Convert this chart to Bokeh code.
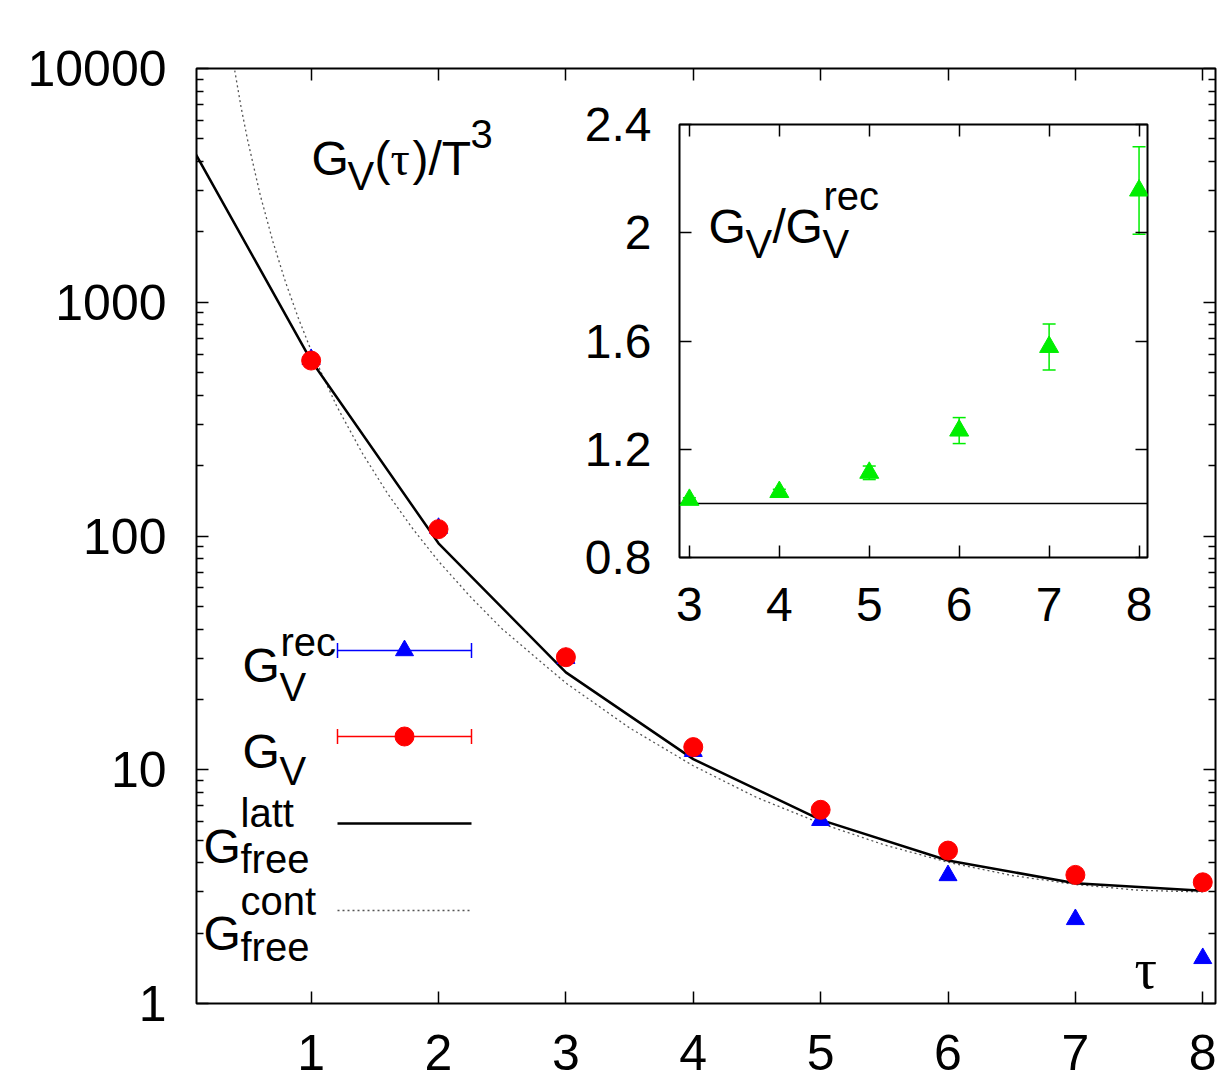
from bokeh.plotting import figure
from bokeh.models import (FixedTicker, LinearAxis, LogAxis, Label, Whisker, TeeHead,
                          ColumnDataSource, Span, NumeralTickFormatter,
                          CustomJSTickFormatter, GridBox, Column)
from bokeh.embed import file_html
from bokeh.resources import INLINE

# ---------------- data ----------------
tau = [1, 2, 3, 4, 5, 6, 7, 8]
g_v = [563, 107, 30.3, 12.5, 6.74, 4.51, 3.55, 3.30]          # G_V  (red circles)
g_rec = [570, 108, 30.0, 12.0, 6.08, 3.53, 2.29, 1.56]        # G_V^rec (blue triangles)
latt_tau = [0, 1, 2, 3, 4, 5, 6, 7, 8]
latt_val = [5310, 563, 93.1, 26.1, 11.1, 6.10, 4.09, 3.27, 3.04]   # G_free^latt
cont_tau = [0.38, 0.45, 0.5, 0.6, 0.7, 0.8, 0.9, 1.0, 1.2, 1.4, 1.6, 1.8, 2.0,
            2.25, 2.5, 3.0, 3.5, 4.0, 4.5, 5.0, 5.5, 6.0, 6.5, 7.0, 7.5, 8.0]
cont_val = [11340, 6830, 4980, 2880, 1815, 1215, 854, 622, 360, 227, 152, 107, 78,
            55, 40, 23.5, 15.1, 10.4, 7.6, 5.9, 4.77, 4.02, 3.53, 3.23, 3.05, 3.0]  # G_free^cont
ratio_tau = [3, 4, 5, 6, 7, 8]
ratio = [1.013, 1.042, 1.113, 1.269, 1.578, 2.156]
ratio_err = [0.008, 0.010, 0.025, 0.048, 0.085, 0.162]

x_ticks = [1, 2, 3, 4, 5, 6, 7, 8]
y_ticks = [1, 10, 100, 1000, 10000]
inset_x_ticks = [3, 4, 5, 6, 7, 8]
inset_y_ticks = [0.8, 1.2, 1.6, 2.0, 2.4]

# ---------------- styles ----------------
SANS = "Liberation Sans"
SERIF = "Liberation Serif"
BLUE, RED, GREEN = "#0000ff", "#ff0000", "#00ee00"
BIG, SMALL, TICKF = "48px", "40px", "50px"

W, H = 1221, 1088
FL, FR, FT, FB = 196, 1215, 68, 1003
X0, X1 = 0.1, 8.1
Y0, Y1 = 1, 10000


def mx(px):
    return X0 + (px - FL) * (X1 - X0) / (FR - FL)


def my(py):
    return 10 ** (4 - (py - FT) * 4.0 / (FB - FT))


def style_axis(ax, size=TICKF, standoff=28):
    ax.axis_line_color = None
    ax.major_tick_in = 12
    ax.major_tick_out = 0
    ax.minor_tick_in = 7
    ax.minor_tick_out = 0
    ax.major_tick_line_color = "black"
    ax.minor_tick_line_color = "black"
    ax.major_tick_line_width = 1.5
    ax.minor_tick_line_width = 1.5
    ax.major_label_text_font = SANS
    ax.major_label_text_font_size = size
    ax.major_label_text_color = "black"
    ax.major_label_standoff = standoff


def mirror(ax):
    style_axis(ax, size="0px", standoff=0)
    ax.formatter = CustomJSTickFormatter(code="return ''")


def txt(fig, x, y, text, size=BIG, font=SANS, align="left"):
    fig.add_layout(Label(x=x, y=y, text=text, text_font=font, text_font_size=size,
                         text_color="black", text_align=align,
                         text_baseline="alphabetic"))


# ---------------- main figure ----------------
y_minor = [m * 10 ** k for k in range(4) for m in range(2, 10)]

p = figure(width=W, height=H, x_range=(X0, X1), y_range=(Y0, Y1), y_axis_type="log",
           output_backend="svg", toolbar_location=None, title=None,
           min_border_left=FL, min_border_right=W - FR,
           min_border_top=FT, min_border_bottom=H - FB)
p.xgrid.visible = False
p.ygrid.visible = False
p.outline_line_color = "black"
p.outline_line_width = 2
p.background_fill_color = "white"
p.border_fill_color = "white"

p.xaxis[0].ticker = FixedTicker(ticks=x_ticks)
style_axis(p.xaxis[0], standoff=31)
p.yaxis[0].ticker = FixedTicker(ticks=y_ticks, minor_ticks=y_minor)
p.yaxis[0].formatter = NumeralTickFormatter(format="0")
style_axis(p.yaxis[0], standoff=30)

top = LinearAxis(ticker=FixedTicker(ticks=x_ticks))
mirror(top)
p.add_layout(top, "above")
right = LogAxis(ticker=FixedTicker(ticks=y_ticks, minor_ticks=y_minor))
mirror(right)
p.add_layout(right, "right")

# curves and points
p.line(cont_tau, cont_val, line_color="#555555", line_width=1.3, line_dash="2 3")
p.line(latt_tau, latt_val, line_color="black", line_width=2.5)
p.scatter(tau, g_rec, marker="triangle", size=18, fill_color=BLUE, line_color=BLUE)
p.scatter(tau, g_v, marker="circle", size=19, fill_color=RED, line_color=RED)

# title text  G_V(tau)/T^3
txt(p, mx(311), my(158), "G")
txt(p, mx(347), my(175), "V", SMALL)
txt(p, mx(374), my(158), "(")
txt(p, mx(390), my(158), "τ", font=SERIF)
txt(p, mx(412), my(158), ")/T")
txt(p, mx(470), my(133), "3", SMALL)

# x label tau
txt(p, mx(1134), my(968), "τ", "56px", font=SERIF)

# legend (manual, gnuplot style key)
kx0, kx1, kxm = mx(337), mx(471), mx(404)
rows = [650, 736, 823, 910]

for py, col in [(rows[0], BLUE), (rows[1], RED)]:
    src = ColumnDataSource(dict(b=[my(py)], lo=[kx0], hi=[kx1]))
    p.add_layout(Whisker(source=src, base="b", lower="lo", upper="hi", dimension="width",
                         line_color=col, line_width=1.5,
                         lower_head=TeeHead(size=15, line_color=col, line_width=1.5),
                         upper_head=TeeHead(size=15, line_color=col, line_width=1.5)))
src = ColumnDataSource(dict(b=[my(rows[2])], lo=[kx0], hi=[kx1]))
p.add_layout(Whisker(source=src, base="b", lower="lo", upper="hi", dimension="width",
                     line_color="black", line_width=2.5, lower_head=None, upper_head=None))
src = ColumnDataSource(dict(b=[my(rows[3])], lo=[kx0], hi=[kx1]))
p.add_layout(Whisker(source=src, base="b", lower="lo", upper="hi", dimension="width",
                     line_color="#555555", line_width=1.3, line_dash="2 3",
                     lower_head=None, upper_head=None))
p.scatter([kxm], [my(rows[0])], marker="triangle", size=18, fill_color=BLUE, line_color=BLUE)
p.scatter([kxm], [my(rows[1])], marker="circle", size=19, fill_color=RED, line_color=RED)

# key texts
txt(p, mx(242), my(665), "G")
txt(p, mx(279), my(686), "V", SMALL)
txt(p, mx(280), my(641), "rec", SMALL)
txt(p, mx(242), my(751), "G")
txt(p, mx(279), my(770), "V", SMALL)
txt(p, mx(203), my(846), "G")
txt(p, mx(240), my(812), "latt", SMALL)
txt(p, mx(240), my(858), "free", SMALL)
txt(p, mx(203), my(933), "G")
txt(p, mx(240), my(900), "cont", SMALL)
txt(p, mx(240), my(946), "free", SMALL)

# ---------------- inset ----------------
IX, IY = 560, 76                  # inset canvas offset in the page
IW, IH = 607, 571
IFL, IFR, IFT, IFB = 679, 1147, 124, 557
IX0, IX1 = 2.89, 8.094
IY0, IY1 = 0.8, 2.4


def ix(px):
    return IX0 + (px - IFL) * (IX1 - IX0) / (IFR - IFL)


def iy(py):
    return IY1 - (py - IFT) * (IY1 - IY0) / (IFB - IFT)


q = figure(width=IW, height=IH, x_range=(IX0, IX1), y_range=(IY0, IY1),
           output_backend="svg", toolbar_location=None, title=None,
           min_border_left=IFL - IX, min_border_right=IX + IW - IFR,
           min_border_top=IFT - IY, min_border_bottom=IY + IH - IFB)
q.xgrid.visible = False
q.ygrid.visible = False
q.outline_line_color = "black"
q.outline_line_width = 2
q.background_fill_color = "white"
q.border_fill_alpha = 0

q.xaxis[0].ticker = FixedTicker(ticks=inset_x_ticks)
style_axis(q.xaxis[0], size="48px", standoff=30)
q.yaxis[0].ticker = FixedTicker(ticks=inset_y_ticks)
q.yaxis[0].formatter = NumeralTickFormatter(format="0.[0]")
style_axis(q.yaxis[0], size="48px", standoff=28)
qt = LinearAxis(ticker=FixedTicker(ticks=inset_x_ticks))
mirror(qt)
q.add_layout(qt, "above")
qr = LinearAxis(ticker=FixedTicker(ticks=inset_y_ticks))
mirror(qr)
q.add_layout(qr, "right")

q.add_layout(Span(location=1.0, dimension="width", line_color="black", line_width=1.5,
                  level="underlay"))
rsrc = ColumnDataSource(dict(x=ratio_tau, y=ratio,
                             lo=[r - e for r, e in zip(ratio, ratio_err)],
                             hi=[r + e for r, e in zip(ratio, ratio_err)]))
q.add_layout(Whisker(source=rsrc, base="x", lower="lo", upper="hi", dimension="height",
                     line_color=GREEN, line_width=1.5,
                     lower_head=TeeHead(size=13, line_color=GREEN, line_width=1.5),
                     upper_head=TeeHead(size=13, line_color=GREEN, line_width=1.5)))
q.scatter("x", "y", source=rsrc, marker="triangle", size=19,
          fill_color=GREEN, line_color=GREEN)

txt(q, ix(708), iy(226), "G")
txt(q, ix(745), iy(243), "V", SMALL)
txt(q, ix(772), iy(226), "/")
txt(q, ix(785), iy(226), "G")
txt(q, ix(822), iy(243), "V", SMALL)
txt(q, ix(823), iy(195), "rec", SMALL)

inset_box = Column(children=[q], margin=(IY, 0, 0, IX))
layout = GridBox(children=[(p, 0, 0), (inset_box, 0, 0)])

open("out.html", "w").write(file_html(layout, INLINE))
